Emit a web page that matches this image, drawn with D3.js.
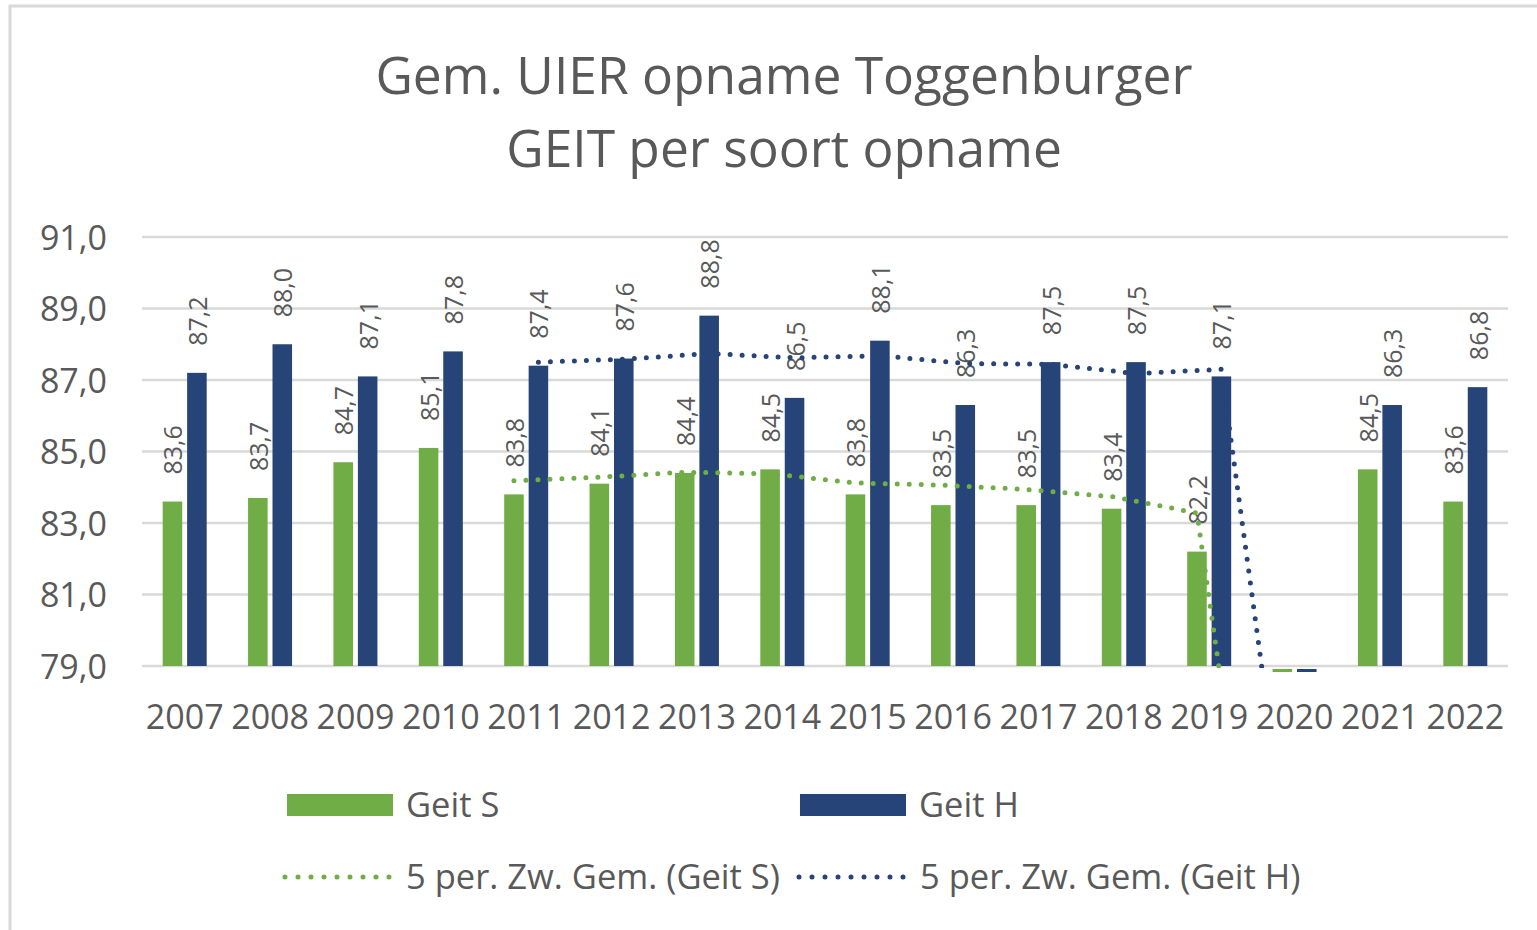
<!DOCTYPE html>
<html>
<head>
<meta charset="utf-8">
<script src="https://cdn.jsdelivr.net/npm/d3@7"></script>
<style>
  body { margin: 0; background: #fff; }
  text { font-family: "Open Sans", sans-serif; fill: #595959; }
</style>
</head>
<body>
<div id="wrapper"></div>
<script>
// Data
const years = ["2007","2008","2009","2010","2011","2012","2013","2014","2015","2016","2017","2018","2019","2020","2021","2022"];
const geitS = [83.6, 83.7, 84.7, 85.1, 83.8, 84.1, 84.4, 84.5, 83.8, 83.5, 83.5, 83.4, 82.2, 0, 84.5, 83.6];
const geitH = [87.2, 88.0, 87.1, 87.8, 87.4, 87.6, 88.8, 86.5, 88.1, 86.3, 87.5, 87.5, 87.1, 0, 86.3, 86.8];
// 5 period moving averages (null where not drawn)
const maS = [null, null, null, null, 84.18, 84.28, 84.42, 84.38, 84.12, 84.06, 83.94, 83.74, 83.28, 66.52, 66.72, 66.74];
const maH = [null, null, null, null, 87.5, 87.58, 87.74, 87.62, 87.68, 87.46, 87.44, 87.18, 87.3, 69.68, 69.68, 69.54];
const yTicks = [79, 81, 83, 85, 87, 89, 91];
const titleLines = ["Gem. UIER opname Toggenburger", "GEIT per soort opname"];

const green = "#70ad47";
const blue = "#264478";

const nl = d3.formatLocale({decimal: ",", thousands: ".", grouping: [3], currency: ["€", ""]});
const fmt = nl.format(".1f");

const width = 1537, height = 930;
const plot = {left: 142, right: 1508, top: 237, bottom: 666};

const svg = d3.select("#wrapper").append("svg")
  .attr("width", width)
  .attr("height", height);

// frame
svg.append("rect")
  .attr("x", 10).attr("y", 6)
  .attr("width", 1600).attr("height", 1000)
  .attr("fill", "none")
  .attr("stroke", "#d9d9d9")
  .attr("stroke-width", 3);

// title
svg.append("g").selectAll("text")
  .data(titleLines)
  .join("text")
    .attr("x", 784)
    .attr("y", (d, i) => 94 + i * 73)
    .attr("text-anchor", "middle")
    .style("font-size", "51.5px")
    .text(d => d);

// scales
const x = d3.scaleBand().domain(years).range([plot.left, plot.right]);
const xSub = d3.scaleBand().domain(["S", "H"])
  .range([x.bandwidth() / 2 - 22, x.bandwidth() / 2 + 22])
  .paddingInner(0.2);
const y = d3.scaleLinear().domain([79, 91]).range([plot.bottom, plot.top]);

// gridlines
svg.append("g").selectAll("line")
  .data(yTicks)
  .join("line")
    .attr("x1", plot.left).attr("x2", plot.right)
    .attr("y1", d => y(d)).attr("y2", d => y(d))
    .attr("stroke", "#d9d9d9")
    .attr("stroke-width", 2.5);

// y axis
const yAxis = svg.append("g")
  .attr("transform", `translate(${plot.left},0)`)
  .call(d3.axisLeft(y).tickValues(yTicks).tickFormat(fmt).tickSize(0).tickPadding(35));
yAxis.select(".domain").remove();
yAxis.selectAll("text")
  .style("font-size", "34px")
  .attr("fill", "#595959")
  .attr("dy", "0.36em");

// x axis
const xAxis = svg.append("g")
  .attr("transform", `translate(0,${plot.bottom})`)
  .call(d3.axisBottom(x).tickSize(0).tickPadding(39));
xAxis.select(".domain").remove();
xAxis.selectAll("text")
  .style("font-size", "34px")
  .attr("fill", "#595959");

// bars
const series = [
  {key: "S", values: geitS, ma: maS, color: green},
  {key: "H", values: geitH, ma: maH, color: blue},
];
const minY = y.domain()[0];

series.forEach(s => {
  const g = svg.append("g");
  const cx = i => x(years[i]) + xSub(s.key) + xSub.bandwidth() / 2;

  g.selectAll("rect")
    .data(s.values)
    .join("rect")
      .attr("x", (d, i) => x(years[i]) + xSub(s.key))
      .attr("width", xSub.bandwidth())
      .attr("y", d => d < minY ? y(minY) + 3 : y(d))
      .attr("height", d => d < minY ? 3 : y(minY) - y(d))
      .attr("fill", s.color);

  g.selectAll("text")
    .data(s.values.map((v, i) => ({v, i})).filter(d => d.v >= minY))
    .join("text")
      .attr("transform", d => `translate(${cx(d.i) + 10},${y(d.v) - 27}) rotate(-90)`)
      .style("font-size", "25px")
      .text(d => fmt(d.v));
});

// moving averages
svg.append("clipPath").attr("id", "plotClip")
  .append("rect")
    .attr("x", plot.left).attr("y", plot.top - 10)
    .attr("width", plot.right - plot.left)
    .attr("height", plot.bottom - plot.top + 12);

series.forEach(s => {
  const cx = i => x(years[i]) + xSub(s.key) + xSub.bandwidth() / 2;
  const line = d3.line()
    .defined(d => d.v !== null)
    .x(d => cx(d.i))
    .y(d => y(d.v));
  svg.append("path")
    .datum(s.ma.map((v, i) => ({v, i})))
    .attr("clip-path", "url(#plotClip)")
    .attr("d", line)
    .attr("fill", "none")
    .attr("stroke", s.color)
    .attr("stroke-width", 5)
    .attr("stroke-linecap", "round")
    .attr("stroke-dasharray", "0,12");
});

// legend
const legendItems = [
  {label: "Geit S", color: green, type: "bar", x: 287, y: 805},
  {label: "Geit H", color: blue, type: "bar", x: 800, y: 805},
  {label: "5 per. Zw. Gem. (Geit S)", color: green, type: "line", x: 285, y: 877},
  {label: "5 per. Zw. Gem. (Geit H)", color: blue, type: "line", x: 799, y: 877},
];
const legend = svg.append("g").selectAll("g")
  .data(legendItems)
  .join("g")
    .attr("transform", d => `translate(${d.x},${d.y})`);

legend.filter(d => d.type === "bar").append("rect")
  .attr("x", 0).attr("y", -11)
  .attr("width", 106).attr("height", 22)
  .attr("fill", d => d.color);

legend.filter(d => d.type === "line").append("line")
  .attr("x1", 0).attr("x2", 105)
  .attr("y1", 0).attr("y2", 0)
  .attr("stroke", d => d.color)
  .attr("stroke-width", 5)
  .attr("stroke-linecap", "round")
  .attr("stroke-dasharray", "0,13");

legend.append("text")
  .attr("x", d => d.type === "bar" ? 119 : 121)
  .attr("dy", "0.36em")
  .style("font-size", "34.5px")
  .text(d => d.label);
</script>
</body>
</html>
